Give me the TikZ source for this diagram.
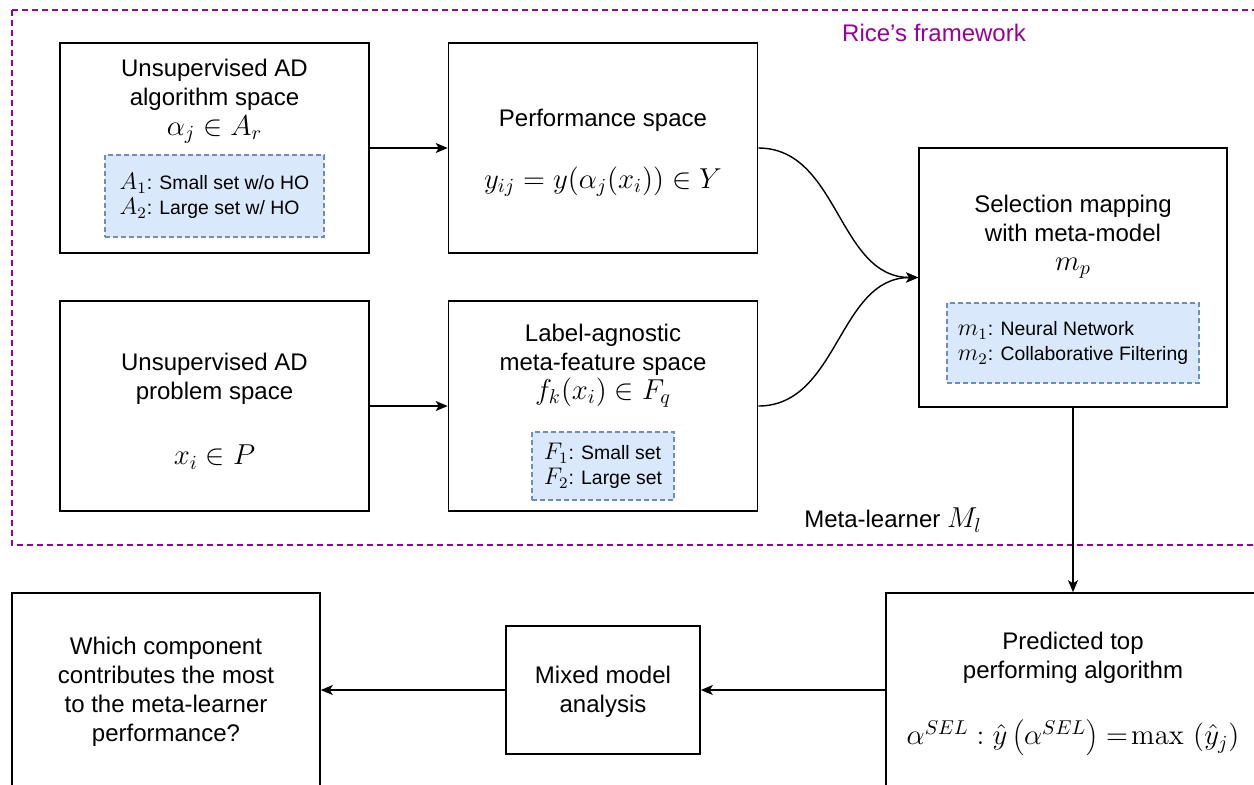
\documentclass[tikz,border=0pt]{standalone}
\usepackage[no-math]{fontspec}
\setmainfont{Liberation Sans}
\usetikzlibrary{arrows.meta}
\usepackage{xcolor}

\definecolor{ricepurple}{RGB}{153,0,153}
\definecolor{setfill}{RGB}{218,232,252}
\definecolor{setline}{RGB}{108,142,191}

\tikzset{
  spacebox/.style={draw, line width=0.8pt, minimum width=154.5pt, minimum height=105pt, align=center, inner sep=0pt, font=\fontsize{12}{14.5}\selectfont},
  spacetext/.style={align=center, inner sep=0pt, font=\fontsize{12}{14.5}\selectfont},
  setbox/.style={draw=setline, fill=setfill, dash pattern=on 2.5pt off 1.5pt, line width=0.6pt, align=left, inner sep=0pt, font=\fontsize{9.7}{12.5}\selectfont},
  arr/.style={-{Stealth[length=6pt,width=5pt,inset=1.5pt]}, line width=0.7pt},
}

\begin{document}
\begin{tikzpicture} [x=0.5pt, y=-0.5pt] %meta-learner pipeline
\def\mbig#1{{\fontsize{14.5}{14.5}\selectfont$#1$}}
\def\msmall#1{{\fontsize{12}{12}\selectfont$#1$}}
\def\up#1{\rule{0pt}{#1}}

\useasboundingbox (0,0) rectangle (1254,784);
\clip (0,0) rectangle (1254,784);

	%dashed frame of Rice's framework
\draw [ricepurple, line width=0.8pt, dash pattern=on 3pt off 2pt] (12,10) rectangle (1275,545);
\node (rice) [spacetext, text=ricepurple] at (934,33) {Rice's framework};
\node (learner) [spacetext] at (893,520) {Meta-learner \mbig{M_l}};

	%algorithm space
\node (alg) [spacebox] at (214.5,148) {};
\node (algtxt) [spacetext] at (214.5,101) {Unsupervised AD\\algorithm space\\[0.5pt]\mbig{\alpha_j \in A_r}};
\node (algset) [setbox, minimum width=109.5pt, minimum height=41pt] at (214.5,196)
  {\msmall{A_1}: Small set w/o HO\\\msmall{A_2}: Large set w/ HO};

	%performance space
\node (perf) [spacebox] at (603,148) {\up{13.7pt}Performance space\\[16.5pt]\mbig{y_{ij} = y(\alpha_j(x_i)) \in Y}};

	%problem space
\node (prob) [spacebox] at (214.5,406) {\up{14pt}Unsupervised AD\\problem space\\[18pt]\mbig{x_i \in P}};

	%meta-feature space
\node (feat) [spacebox] at (603,406) {};
\node (feattxt) [spacetext] at (603,366) {Label-agnostic\\meta-feature space\\\mbig{f_k(x_i) \in F_q}};
\node (featset) [setbox, minimum width=71pt, minimum height=34pt] at (603,466)
  {\msmall{F_1}: Small set\\\msmall{F_2}: Large set};

	%selection mapping
\node (sel) [spacebox, minimum width=154pt, minimum height=129.5pt] at (1073,277.5) {};
\node (seltxt) [spacetext] at (1073,237) {Selection mapping\\with meta-model\\\mbig{m_p}};
\node (selset) [setbox, minimum width=126pt, minimum height=40pt] at (1073,343)
  {\msmall{m_1}: Neural Network\\\msmall{m_2}: Collaborative Filtering};

	%bottom row
\node (pred) [spacebox, minimum width=187pt, minimum height=97pt] at (1073,690)
  {\up{12.7pt}Predicted top\\performing algorithm\\[17pt]\mbig{\alpha^{SEL} : \hat{y}\left(\alpha^{SEL}\right) =\!\max\,\left(\hat{y}_j\right)}};
\node (mix) [spacebox, minimum width=97pt, minimum height=64pt] at (603,690) {\up{10.7pt}Mixed model\\analysis};
\node (which) [spacebox, minimum width=154pt, minimum height=97pt] at (166,690)
  {\up{10.7pt}Which component\\contributes the most\\to the meta-learner\\performance?};

	%connectors
\draw [arr] (alg) -- (perf);
\draw [arr] (prob) -- (feat);
\draw [arr] (perf.east) to [out=0, in=180] (sel.west);
\draw [arr] (feat.east) to [out=0, in=180] (sel.west);
\draw [arr] (sel) -- (pred);
\draw [arr] (pred) -- (mix);
\draw [arr] (mix) -- (which);

\end{tikzpicture}
\end{document}
